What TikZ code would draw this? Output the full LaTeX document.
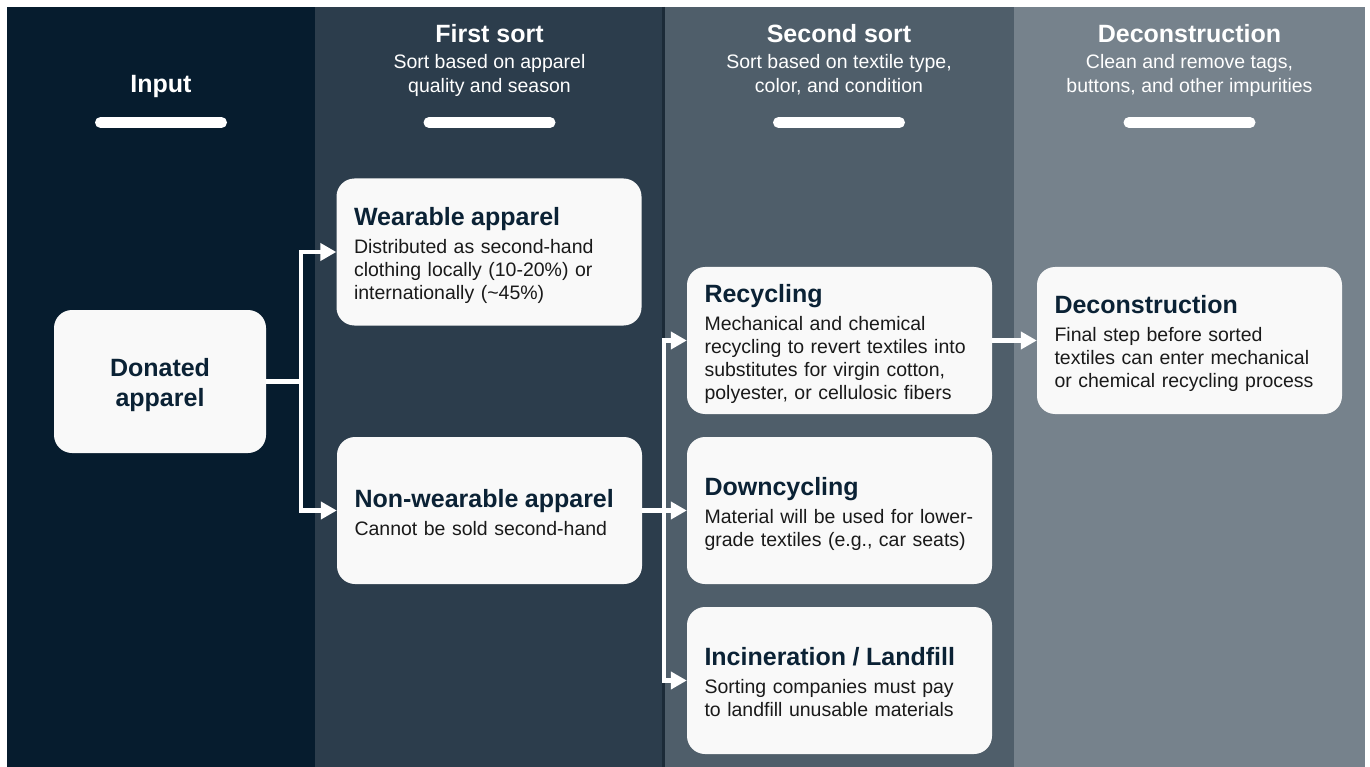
\documentclass[tikz,border=0pt]{standalone}
\usepackage{fontspec}
\setmainfont{Liberation Sans}
\usetikzlibrary{arrows.meta}
\definecolor{colA}{HTML}{061C2E}
\definecolor{colB}{HTML}{2C3D4C}
\definecolor{colC}{HTML}{4F5E6A}
\definecolor{colD}{HTML}{76828C}
\definecolor{divc}{HTML}{1C2B38}
\definecolor{boxfill}{HTML}{F9F9F9}
\definecolor{ttlc}{HTML}{0B2235}
\definecolor{bodyc}{HTML}{1A1A1A}
\lineskiplimit=-1000pt
\newcommand{\bxt}[1]{{\fontsize{25}{30}\selectfont\bfseries\color{ttlc}\rule{0pt}{25pt}#1}\\[5pt]}
\newcommand{\myendst}{\rule[-4pt]{0pt}{4pt}}
\tikzset{
  panel/.style={draw=none},
  box/.style={draw=none, fill=boxfill, rounded corners=18pt, inner xsep=17.5pt, inner ysep=0pt,
    text width=270pt, minimum height=147pt, align=left, text=bodyc,
    font={\fontsize{19.5}{23}\selectfont}},
  dbox/.style={draw=none, fill=boxfill, rounded corners=18pt, inner xsep=0pt, inner ysep=0pt,
    text width=212pt, minimum height=143pt, align=center, text=ttlc,
    font={\fontsize{25}{30}\selectfont\bfseries}},
  hdttl/.style={anchor=base, text=white, inner sep=0pt, font={\fontsize{25}{30}\selectfont\bfseries}},
  hdsub/.style={anchor=base, text=white, inner sep=0pt, font={\fontsize{19.5}{24}\selectfont}},
  hbar/.style={draw=white, line width=11pt, line cap=round},
  conn/.style={draw=white, line width=4.5pt, -{Triangle[length=16pt,width=17pt]}},
  plainconn/.style={draw=white, line width=4.5pt},
}
\begin{document}
\begin{tikzpicture}[x=1pt,y=-1pt]
\useasboundingbox (0,0) rectangle (1370,767);
\fill[white] (0,0) rectangle (1370,767);
% columns
\fill[colA] (7,7) rectangle (315,767);
\fill[colB] (315,7) rectangle (664,767);
\fill[colC] (664,7) rectangle (1014,767);
\fill[colD] (1014,7) rectangle (1365,767);
\draw[divc, line width=3pt] (663.5,7) -- (663.5,767);
% headers
\node[hdttl] (hInput) at (161,93) {Input};
\node[hdttl] (hFirst) at (489.5,43) {First sort};
\node[hdsub] (hFirstA) at (489.5,69) {Sort based on apparel};
\node[hdsub] (hFirstB) at (489.5,93) {quality and season};
\node[hdttl] (hSecond) at (839,43) {Second sort};
\node[hdsub] (hSecondA) at (839,69) {Sort based on textile type,};
\node[hdsub] (hSecondB) at (839,93) {color, and condition};
\node[hdttl] (hDec) at (1189.5,43) {Deconstruction};
\node[hdsub] (hDecA) at (1189.5,69) {Clean and remove tags,};
\node[hdsub] (hDecB) at (1189.5,93) {buttons, and other impurities};
\draw[hbar] (100.5,122.5) -- (221.5,122.5);
\draw[hbar] (429,122.5) -- (550,122.5);
\draw[hbar] (778.5,122.5) -- (899.5,122.5);
\draw[hbar] (1129,122.5) -- (1250,122.5);
% boxes
\node[dbox] (don) at (160,381.5) {\rule{0pt}{25pt}Donated\\apparel\myendst};
\node[box] (wear) at (489,252) {\bxt{Wearable apparel}Distributed as second-hand\\clothing locally (10-20\%) or\\internationally (\textasciitilde45\%)\myendst};
\node[box] (nonw) at (489.5,510.5) {\bxt{Non-wearable apparel}Cannot be sold second-hand\myendst};
\node[box] (rec) at (839.5,340.5) {\bxt{Recycling}Mechanical and chemical\\recycling to revert textiles into\\substitutes for virgin cotton,\\polyester, or cellulosic fibers\myendst};
\node[box] (down) at (839.5,510.5) {\bxt{Downcycling}Material will be used for lower-\\grade textiles (e.g., car seats)\myendst};
\node[box] (inc) at (839.5,680.5) {\bxt{Incineration / Landfill}Sorting companies must pay\\to landfill unusable materials\myendst};
\node[box] (deco) at (1189.5,340.5) {\bxt{Deconstruction}Final step before sorted\\textiles can enter mechanical\\or chemical recycling process\myendst};
% connectors
\draw[plainconn] (don.east) -- ++(35,0) coordinate (j1);
\draw[conn] (j1) |- (wear.west);
\draw[conn] (j1) |- (nonw.west);
\draw[conn] (nonw.east) -- (down.west);
\coordinate (j2) at ([xshift=22pt]nonw.east);
\draw[conn] (j2) |- (rec.west);
\draw[conn] (j2) |- (inc.west);
\draw[conn] (rec.east) -- (deco.west);
\end{tikzpicture}
\end{document}
